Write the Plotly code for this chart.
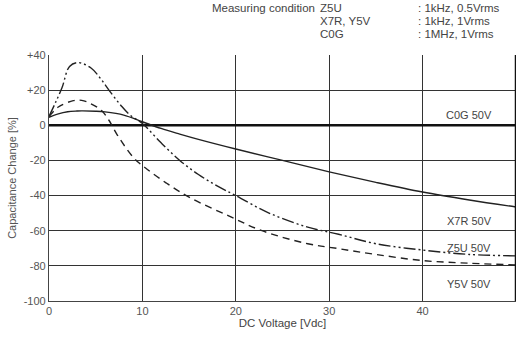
import plotly.graph_objects as go

# ---- data ----
x7r_v = [0, 1, 2, 3, 3.5, 5, 6, 8, 10, 12, 14, 16, 20, 25, 30, 35, 40, 45, 50]
x7r_c = [4.5, 6.5, 7.7, 8.1, 8.2, 8.0, 7.6, 5.8, 2, -1.8, -5, -8, -13.5, -20, -26.5, -32.5, -38, -42.5, -46.5]

z5u_v = [0, 0.7, 1.4, 2.2, 3.1, 4.5, 5.6, 6.6, 7.7, 8.7, 10, 12, 14, 16, 18, 20, 23.5, 27.7, 31, 35, 40, 45, 50]
z5u_c = [5, 13, 21.5, 33.5, 35.7, 32.6, 26, 18.7, 11.3, 5.7, 1, -10, -20, -28, -34.5, -40, -49.8, -58, -62, -67.4, -71, -73.5, -74.3]

y5v_v = [0, 1, 2.6, 3.5, 4.5, 5.6, 6.4, 7.3, 9.1, 10.5, 12.6, 15.2, 19.3, 22.8, 27.7, 31, 35, 40, 45, 50]
y5v_c = [5, 10.4, 14, 14.2, 12.2, 8.5, 3, -5.4, -18.7, -25, -33, -41.5, -51.7, -60, -67.4, -70.2, -73.5, -77, -78.5, -79.5]

c0g_v = [0, 50]
c0g_c = [0, 0]

x_ticks = [0, 10, 20, 30, 40]
y_ticks = [40, 20, 0, -20, -40, -60, -80, -100]
y_ticktext = ["+40", "+20", "0", "-20", "-40", "-60", "-80", "-100"]

curve_labels = ["C0G 50V", "X7R 50V", "Z5U 50V", "Y5V 50V"]
label_y = [5.6, -54.4, -70, -90.5]

cond_names = ["Z5U", "X7R, Y5V", "C0G"]
cond_values = [": 1kHz, 0.5Vrms", ": 1kHz, 1Vrms", ": 1MHz, 1Vrms"]

FONT = "Liberation Sans, Arial, sans-serif"
TXT = "#444"

fig = go.Figure()
fig.add_trace(go.Scatter(x=c0g_v, y=c0g_c, mode="lines",
                         line=dict(color="#111", width=2.5), showlegend=False))
fig.add_trace(go.Scatter(x=x7r_v, y=x7r_c, mode="lines", line_shape="spline",
                         line=dict(color="#222", width=1.4), showlegend=False))
fig.add_trace(go.Scatter(x=z5u_v, y=z5u_c, mode="lines", line_shape="spline",
                         line=dict(color="#222", width=1.4, dash="12px,3px,2px,3px,2px,3px"),
                         showlegend=False))
fig.add_trace(go.Scatter(x=y5v_v, y=y5v_c, mode="lines", line_shape="spline",
                         line=dict(color="#222", width=1.4, dash="7px,5px"), showlegend=False))

# right border (thick)
fig.add_shape(type="line", xref="x", yref="y", x0=50, x1=50, y0=-100, y1=40,
              line=dict(color="#111", width=2.5))

annotations = []
for t, yy in zip(curve_labels, label_y):
    annotations.append(dict(x=45, y=yy, xref="x", yref="y", text=t, showarrow=False,
                            font=dict(family=FONT, size=11, color=TXT), xanchor="center"))

# header
def px2paper(px, py):
    return (px - 47) / 469.0, (307 - py) / 252.0

hx, hy = px2paper(316, 7)
annotations.append(dict(x=hx, y=hy, xref="paper", yref="paper", text="Measuring condition",
                        showarrow=False, xanchor="right", yanchor="middle",
                        font=dict(family=FONT, size=11.5, color=TXT)))
for i, (n, v) in enumerate(zip(cond_names, cond_values)):
    ax, ay = px2paper(317, 7 + 13 * i)
    annotations.append(dict(x=ax, y=ay, xref="paper", yref="paper", text=n, showarrow=False,
                            xanchor="left", yanchor="middle",
                            font=dict(family=FONT, size=11.5, color=TXT)))
    bx, by = px2paper(416, 7 + 13 * i)
    annotations.append(dict(x=bx, y=by, xref="paper", yref="paper", text=v, showarrow=False,
                            xanchor="left", yanchor="middle",
                            font=dict(family=FONT, size=11.5, color=TXT)))

fig.update_layout(
    width=530, height=339,
    margin=dict(l=47, r=14, t=55, b=32),
    paper_bgcolor="white", plot_bgcolor="white",
    font=dict(family=FONT, size=11, color=TXT),
    annotations=annotations,
    xaxis=dict(range=[0, 50], tickvals=x_ticks, ticks="", showgrid=True,
               gridcolor="#333", gridwidth=1.2, zeroline=False,
               showline=True, linecolor="#444", linewidth=1.2, mirror=False,
               title=dict(text="DC Voltage [Vdc]", standoff=2, font=dict(size=11.5)),
               tickfont=dict(size=11, color="#555")),
    yaxis=dict(range=[-100, 40], tickvals=y_ticks, ticktext=y_ticktext, ticks="",
               showgrid=True, gridcolor="#333", gridwidth=1.2, zeroline=False,
               showline=True, linecolor="#444", linewidth=1.2,
               title=dict(text="Capacitance Change [%]", standoff=4, font=dict(size=11, color="#555")),
               tickfont=dict(size=11, color="#555")),
)

fig.write_html("out.html")
